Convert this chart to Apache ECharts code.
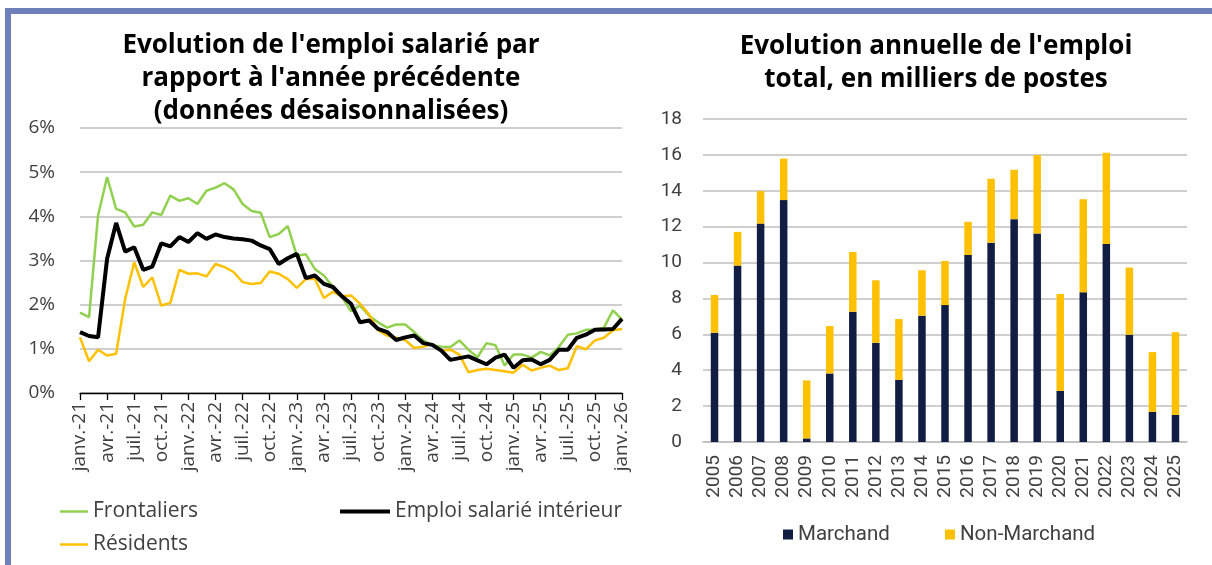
<!DOCTYPE html>
<html>
<head>
<meta charset="utf-8">
<script src="https://cdn.jsdelivr.net/npm/echarts@6/dist/echarts.min.js"></script>
<style>
html,body{margin:0;padding:0;background:#fff;}
#c{width:1212px;height:565px;}
</style>
</head>
<body>
<div id="c"></div>
<script>
// ---- Left chart: monthly categories ----
const monthLabels = [
 'janv.-21','févr.-21','mars-21','avr.-21','mai-21','juin-21','juil.-21','août-21','sept.-21','oct.-21','nov.-21','déc.-21',
 'janv.-22','févr.-22','mars-22','avr.-22','mai-22','juin-22','juil.-22','août-22','sept.-22','oct.-22','nov.-22','déc.-22',
 'janv.-23','févr.-23','mars-23','avr.-23','mai-23','juin-23','juil.-23','août-23','sept.-23','oct.-23','nov.-23','déc.-23',
 'janv.-24','févr.-24','mars-24','avr.-24','mai-24','juin-24','juil.-24','août-24','sept.-24','oct.-24','nov.-24','déc.-24',
 'janv.-25','févr.-25','mars-25','avr.-25','mai-25','juin-25','juil.-25','août-25','sept.-25','oct.-25','nov.-25','déc.-25',
 'janv.-26'
];
const frontaliers = [
 1.82,1.72,4.02,4.89,4.17,4.09,3.77,3.81,4.09,4.03,4.47,4.35,
 4.41,4.28,4.58,4.65,4.75,4.61,4.28,4.12,4.08,3.53,3.60,3.78,
 3.11,3.14,2.81,2.66,2.40,2.17,1.85,1.98,1.75,1.60,1.48,1.55,
 1.55,1.38,1.19,1.08,1.05,1.04,1.19,0.98,0.81,1.13,1.08,0.62,
 0.87,0.87,0.80,0.93,0.85,1.04,1.32,1.35,1.43,1.44,1.48,1.87,
 1.66
];
const emploiInterieur = [
 1.38,1.29,1.26,3.04,3.85,3.20,3.30,2.79,2.86,3.39,3.32,3.53,
 3.42,3.62,3.49,3.59,3.53,3.50,3.48,3.45,3.34,3.26,2.92,3.05,
 3.15,2.60,2.66,2.47,2.40,2.19,2.02,1.60,1.64,1.45,1.38,1.20,
 1.26,1.30,1.13,1.09,0.96,0.75,0.79,0.83,0.74,0.65,0.80,0.87,
 0.57,0.74,0.76,0.65,0.75,0.98,0.98,1.25,1.32,1.43,1.44,1.45,
 1.68
];
const residents = [
 1.26,0.72,0.98,0.85,0.89,2.13,2.96,2.40,2.62,1.98,2.04,2.79,
 2.70,2.71,2.64,2.92,2.85,2.74,2.51,2.47,2.49,2.75,2.70,2.58,
 2.38,2.58,2.58,2.15,2.29,2.19,2.21,2.02,1.78,1.42,1.30,1.25,
 1.20,1.02,1.05,1.11,0.96,0.98,0.87,0.47,0.52,0.55,0.52,0.49,
 0.46,0.64,0.51,0.57,0.62,0.52,0.56,1.06,0.99,1.19,1.25,1.42,
 1.45
];
const pctTicks = [0,1,2,3,4,5,6];

// ---- Right chart: yearly stacked bars ----
const years = ['2005','2006','2007','2008','2009','2010','2011','2012','2013','2014','2015',
               '2016','2017','2018','2019','2020','2021','2022','2023','2024','2025'];
const marchand =    [6.09,9.83,12.17,13.48,0.20,3.82,7.26,5.53,3.46,7.04,7.63,
                     10.42,11.11,12.42,11.62,2.85,8.34,11.04,5.98,1.68,1.51];
const nonMarchand = [2.10,1.88,1.81,2.31,3.23,2.64,3.33,3.48,3.39,2.53,2.46,
                     1.85,3.56,2.75,4.37,5.40,5.19,5.08,3.74,3.33,4.61];

const GREEN = '#92D050', YELLOW = '#FFC000', BLACK = '#000000', NAVY = '#111D42';
const GRID = '#BFBFBF', TXT = '#404040';
const FONT = 'Open Sans';

const chart = echarts.init(document.getElementById('c'), null, {renderer: 'canvas'});
const titleStyle = {fontFamily: FONT, fontWeight: 'bold', fontSize: 26, color: '#000', lineHeight: 33};
const legendLeftText = {fontFamily: FONT, fontSize: 21, color: TXT};
const legendRightText = {fontFamily: 'Roboto', fontSize: 20.5, color: TXT};

chart.setOption({
  animation: false,
  backgroundColor: '#fff',
  graphic: [{
    type: 'rect', silent: true, z: -10,
    shape: {x: 8, y: 11, width: 1400, height: 800},
    style: {fill: 'none', stroke: '#6f7fba', lineWidth: 6}
  }],
  title: [
    {text: "Evolution de l'emploi salarié par\nrapport à l'année précédente\n(données désaisonnalisées)",
     left: 331, top: 29, textAlign: 'center', padding: 0, textStyle: titleStyle},
    {text: "Evolution annuelle de l'emploi\ntotal, en milliers de postes",
     left: 936, top: 30, textAlign: 'center', padding: 0, textStyle: titleStyle}
  ],
  legend: [
    {data: ['Frontaliers'], left: 60, top: 501, padding: 0, icon: 'rect', itemWidth: 28, itemHeight: 2.5,
     textStyle: legendLeftText, selectedMode: false},
    {data: ['Emploi salarié intérieur'], left: 340, top: 501, padding: 0, icon: 'rect', itemWidth: 50, itemHeight: 4,
     textStyle: legendLeftText, selectedMode: false},
    {data: ['Résidents'], left: 60, top: 534, padding: 0, icon: 'rect', itemWidth: 28, itemHeight: 2.5,
     textStyle: legendLeftText, selectedMode: false},
    {data: ['Marchand'], left: 783, top: 524, padding: 0, icon: 'rect', itemWidth: 10, itemHeight: 10,
     textStyle: legendRightText, selectedMode: false},
    {data: ['Non-Marchand'], left: 945, top: 524, padding: 0, icon: 'rect', itemWidth: 10, itemHeight: 10,
     textStyle: legendRightText, selectedMode: false}
  ],
  grid: [
    {left: 80, top: 128, width: 542, height: 265, containLabel: false},
    {left: 703, top: 119, width: 484, height: 323, containLabel: false}
  ],
  xAxis: [
    {type: 'category', gridIndex: 0, data: monthLabels, boundaryGap: false,
     axisLine: {lineStyle: {color: '#000', width: 1.3}},
     axisTick: {show: true, interval: 2, length: 7, lineStyle: {color: '#000', width: 1.3}},
     axisLabel: {interval: 2, rotate: 90, margin: 9, fontFamily: FONT, fontSize: 19, color: TXT},
     splitLine: {show: false}},
    {type: 'category', gridIndex: 1, data: years,
     axisLine: {lineStyle: {color: GRID, width: 1.5}},
     axisTick: {show: false},
     axisLabel: {interval: 0, rotate: 90, margin: 13, fontFamily: 'Roboto', fontSize: 19, color: TXT}}
  ],
  yAxis: [
    {type: 'value', gridIndex: 0, min: pctTicks[0], max: pctTicks[pctTicks.length - 1], interval: 1,
     axisLine: {show: false}, axisTick: {show: false},
     axisLabel: {formatter: '{value}%', margin: 25, fontFamily: FONT, fontSize: 19, color: TXT},
     splitLine: {lineStyle: {color: GRID, width: 1.5}}},
    {type: 'value', gridIndex: 1, min: 0, max: 18, interval: 2,
     axisLine: {show: false}, axisTick: {show: false},
     axisLabel: {margin: 21, fontFamily: 'Roboto', fontSize: 19, color: TXT},
     splitLine: {lineStyle: {color: GRID, width: 1.5}}}
  ],
  series: [
    {name: 'Frontaliers', type: 'line', xAxisIndex: 0, yAxisIndex: 0, data: frontaliers,
     showSymbol: false, symbol: 'none', lineStyle: {color: GREEN, width: 2.5}, itemStyle: {color: GREEN}, z: 2},
    {name: 'Résidents', type: 'line', xAxisIndex: 0, yAxisIndex: 0, data: residents,
     showSymbol: false, symbol: 'none', lineStyle: {color: YELLOW, width: 2.5}, itemStyle: {color: YELLOW}, z: 3},
    {name: 'Emploi salarié intérieur', type: 'line', xAxisIndex: 0, yAxisIndex: 0, data: emploiInterieur,
     showSymbol: false, symbol: 'none', lineStyle: {color: BLACK, width: 4}, itemStyle: {color: BLACK}, z: 4},
    {name: 'Marchand', type: 'bar', xAxisIndex: 1, yAxisIndex: 1, stack: 'emploi', data: marchand,
     barWidth: 7.5, itemStyle: {color: NAVY}},
    {name: 'Non-Marchand', type: 'bar', xAxisIndex: 1, yAxisIndex: 1, stack: 'emploi', data: nonMarchand,
     barWidth: 7.5, itemStyle: {color: YELLOW}}
  ]
});
</script>
</body>
</html>
